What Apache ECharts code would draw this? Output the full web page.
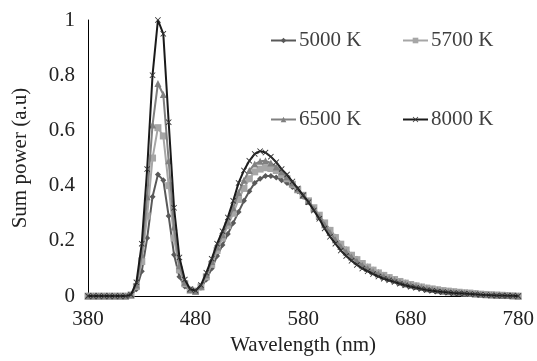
<!DOCTYPE html>
<html>
<head>
<meta charset="utf-8">
<script src="https://cdn.jsdelivr.net/npm/echarts@6/dist/echarts.min.js"></script>
<style>html,body{margin:0;padding:0;background:#fff}#c{width:537px;height:361px}</style>
</head>
<body>
<div id="c"></div>
<script>
var wavelengths = [];
for (var w = 380; w <= 780; w += 5) wavelengths.push(w);

var s5000 = [0,0,0,0,0,0,0,0,
  0.003,0.025,0.09,0.21,0.36,0.44,0.42,0.29,0.15,0.07,
  0.035,0.02,0.018,0.03,0.06,0.10,0.145,0.185,0.225,0.265,
  0.305,0.345,0.38,0.41,0.425,0.435,0.435,0.43,0.42,0.41,
  0.395,0.38,0.36,0.34,0.315,0.29,0.265,0.24,0.215,0.19,
  0.17,0.15,0.135,0.12,0.107,0.096,0.086,0.077,0.069,0.062,
  0.055,0.049,0.044,0.039,0.035,0.031,0.027,0.024,0.021,0.019,
  0.017,0.015,0.013,0.011,0.01,0.008,0.006,0.005,0.004,0.003,
  0.002,0.001,0];
var s5700 = [0,0,0,0,0,0,0,0,
  0.004,0.035,0.125,0.29,0.50,0.61,0.58,0.40,0.21,0.095,
  0.045,0.022,0.018,0.033,0.07,0.115,0.165,0.21,0.255,0.30,
  0.35,0.39,0.425,0.45,0.46,0.465,0.462,0.455,0.44,0.425,
  0.405,0.385,0.365,0.345,0.32,0.293,0.265,0.238,0.212,0.188,
  0.167,0.148,0.132,0.118,0.105,0.094,0.084,0.075,0.067,0.06,
  0.053,0.047,0.042,0.037,0.033,0.029,0.026,0.023,0.02,0.018,
  0.016,0.014,0.012,0.011,0.009,0.007,0.006,0.005,0.004,0.003,
  0.002,0.001,0];
var s6500 = [0,0,0,0,0,0,0,0,
  0.004,0.04,0.15,0.36,0.62,0.77,0.73,0.49,0.25,0.11,
  0.05,0.023,0.018,0.036,0.077,0.125,0.178,0.222,0.268,0.32,
  0.375,0.42,0.455,0.478,0.488,0.49,0.482,0.468,0.45,0.432,
  0.41,0.388,0.365,0.343,0.316,0.288,0.258,0.23,0.204,0.18,
  0.16,0.142,0.126,0.112,0.1,0.089,0.08,0.071,0.064,0.057,
  0.05,0.044,0.039,0.035,0.031,0.027,0.024,0.021,0.018,0.016,
  0.014,0.013,0.011,0.01,0.008,0.007,0.005,0.004,0.003,0.002,
  0.002,0.001,0];
var s8000 = [0,0,0,0,0,0,0,0,
  0.005,0.05,0.19,0.46,0.80,1.0,0.95,0.63,0.32,0.14,
  0.06,0.025,0.02,0.04,0.085,0.135,0.19,0.235,0.285,0.345,
  0.41,0.455,0.49,0.515,0.525,0.52,0.505,0.485,0.46,0.44,
  0.415,0.39,0.365,0.34,0.31,0.28,0.245,0.215,0.19,0.165,
  0.145,0.128,0.113,0.1,0.09,0.08,0.071,0.063,0.057,0.051,
  0.045,0.039,0.034,0.03,0.026,0.022,0.019,0.017,0.015,0.013,
  0.011,0.01,0.009,0.008,0.007,0.005,0.004,0.003,0.002,0.002,
  0.001,0.001,0];

var seriesNames = ['5000 K','5700 K','6500 K','8000 K'];
var xTicks = [380,480,580,680,780];

function pairs(arr){ return wavelengths.map(function(w,i){ return [w, arr[i]]; }); }

var xSym = 'path://M0,1 L1,0 L5,4 L9,0 L10,1 L6,5 L10,9 L9,10 L5,6 L1,10 L0,9 L4,5 Z';
var font = 'Liberation Serif';

var chart = echarts.init(document.getElementById('c'));
function legendAt(name, left, top){
  return {data:[name], left:left, top:top, itemWidth:25, itemHeight:7, itemGap:0,
    textStyle:{fontFamily:font, fontSize:21, color:'#404040', padding:[0,0,0,-2]}};
}
chart.setOption({
  animation:false,
  backgroundColor:'#fff',
  grid:{left:88, right:16, top:20, bottom:59, containLabel:false},
  legend:[legendAt(seriesNames[0],265,25), legendAt(seriesNames[1],397,25),
          legendAt(seriesNames[2],265,104), legendAt(seriesNames[3],397,104)],
  xAxis:{type:'value', min:380, max:780, interval:100,
    name:'Wavelength (nm)', nameLocation:'middle', nameGap:36,
    nameTextStyle:{fontFamily:font, fontSize:21, color:'#222'},
    axisLine:{show:true, lineStyle:{color:'#000', width:1}},
    axisTick:{show:false}, splitLine:{show:false},
    axisLabel:{fontFamily:font, fontSize:21, color:'#222', margin:13,
      formatter:function(v){ return xTicks.indexOf(v)>=0 ? String(v) : ''; }}},
  yAxis:{type:'value', min:0, max:1, interval:0.2,
    name:'Sum power (a.u)', nameLocation:'middle', nameGap:57,
    nameTextStyle:{fontFamily:font, fontSize:21, color:'#222'},
    axisLine:{show:true, lineStyle:{color:'#000', width:1}},
    axisTick:{show:false}, splitLine:{show:false},
    axisLabel:{fontFamily:font, fontSize:21, color:'#222', margin:13}},
  series:[
    {name:seriesNames[0], type:'line', data:pairs(s5000), showAllSymbol:true,
      symbol:'diamond', symbolSize:6, lineStyle:{color:'#595959', width:2},
      itemStyle:{color:'#595959'}, z:2},
    {name:seriesNames[1], type:'line', data:pairs(s5700), showAllSymbol:true,
      symbol:'rect', symbolSize:7, lineStyle:{color:'#a6a6a6', width:2},
      itemStyle:{color:'#a6a6a6'}, z:3},
    {name:seriesNames[2], type:'line', data:pairs(s6500), showAllSymbol:true,
      symbol:'triangle', symbolSize:7, lineStyle:{color:'#808080', width:2},
      itemStyle:{color:'#808080'}, z:4},
    {name:seriesNames[3], type:'line', data:pairs(s8000), showAllSymbol:true,
      symbol:xSym, symbolSize:6, lineStyle:{color:'#1a1a1a', width:2},
      itemStyle:{color:'#333'}, z:5}
  ]
});
</script>
</body>
</html>
